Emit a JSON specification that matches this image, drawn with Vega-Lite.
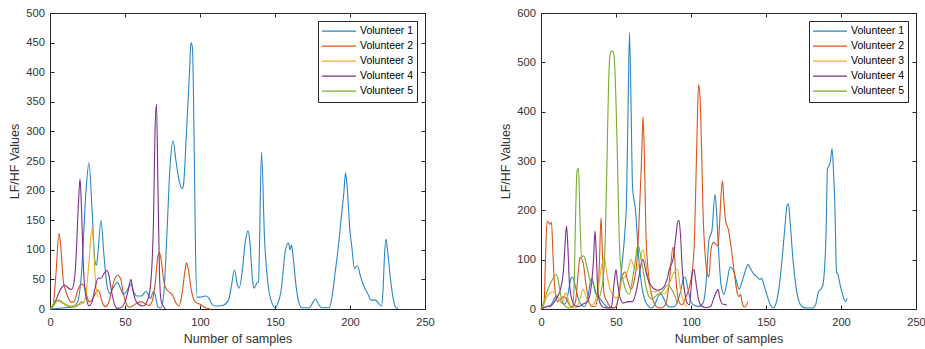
{
"$schema": "https://vega.github.io/schema/vega-lite/v6.json",
"padding": {"left": 8, "top": 6, "right": 0, "bottom": 0},
"spacing": 64,
"config": {
  "view": {"stroke": "#262626", "strokeWidth": 1},
  "font": "Liberation Sans",
  "axis": {"grid": false, "labelFlush": false, "domainColor": "#262626", "tickColor": "#262626", "tickSize": -4, "labelColor": "#333333", "labelFont": "Liberation Sans", "labelFontSize": 11.2, "labelPadding": 9.5, "titleFont": "Liberation Sans", "titleFontSize": 12.5, "titleFontWeight": "normal", "titleColor": "#333333", "titlePadding": 4},
  "axisX": {"labelPadding": 11, "titlePadding": 5, "labelFlush": false},
  "legend": {"orient": "top-right", "offset": 8, "strokeColor": "#262626", "fillColor": "#ffffff", "padding": 3, "symbolType": "stroke", "symbolSize": 1156, "symbolStrokeWidth": 1.2, "clipHeight": 14.4, "rowPadding": 0, "labelFont": "Liberation Sans", "labelFontSize": 10.5, "labelColor": "#000000", "labelOffset": 3, "title": null}
},
"datasets": {
"L": [
{"v":"Volunteer 1","x":0,"y":0},{"v":"Volunteer 1","x":5,"y":1},{"v":"Volunteer 1","x":10,"y":2},{"v":"Volunteer 1","x":15,"y":4},{"v":"Volunteer 1","x":18,"y":10},{"v":"Volunteer 1","x":21,"y":60},{"v":"Volunteer 1","x":24,"y":200},{"v":"Volunteer 1","x":26,"y":247},{"v":"Volunteer 1","x":28,"y":170},{"v":"Volunteer 1","x":30,"y":80},{"v":"Volunteer 1","x":31,"y":74},{"v":"Volunteer 1","x":32,"y":95},{"v":"Volunteer 1","x":34,"y":150},{"v":"Volunteer 1","x":36,"y":90},{"v":"Volunteer 1","x":38,"y":40},{"v":"Volunteer 1","x":40,"y":26},{"v":"Volunteer 1","x":42,"y":35},{"v":"Volunteer 1","x":45,"y":45},{"v":"Volunteer 1","x":47,"y":35},{"v":"Volunteer 1","x":49,"y":25},{"v":"Volunteer 1","x":51,"y":30},{"v":"Volunteer 1","x":54,"y":42},{"v":"Volunteer 1","x":56,"y":28},{"v":"Volunteer 1","x":58,"y":22},{"v":"Volunteer 1","x":61,"y":22},{"v":"Volunteer 1","x":64,"y":30},{"v":"Volunteer 1","x":66,"y":22},{"v":"Volunteer 1","x":67,"y":18},{"v":"Volunteer 1","x":69,"y":30},{"v":"Volunteer 1","x":70,"y":25},{"v":"Volunteer 1","x":72,"y":3},{"v":"Volunteer 1","x":74,"y":2},{"v":"Volunteer 1","x":76,"y":30},{"v":"Volunteer 1","x":78,"y":130},{"v":"Volunteer 1","x":80,"y":240},{"v":"Volunteer 1","x":82,"y":284},{"v":"Volunteer 1","x":84,"y":250},{"v":"Volunteer 1","x":86,"y":218},{"v":"Volunteer 1","x":88,"y":203},{"v":"Volunteer 1","x":89,"y":210},{"v":"Volunteer 1","x":91,"y":300},{"v":"Volunteer 1","x":93,"y":400},{"v":"Volunteer 1","x":94,"y":450},{"v":"Volunteer 1","x":95,"y":440},{"v":"Volunteer 1","x":96,"y":300},{"v":"Volunteer 1","x":97,"y":100},{"v":"Volunteer 1","x":98,"y":20},{"v":"Volunteer 1","x":100,"y":20},{"v":"Volunteer 1","x":102,"y":21},{"v":"Volunteer 1","x":104,"y":22},{"v":"Volunteer 1","x":106,"y":18},{"v":"Volunteer 1","x":108,"y":8},{"v":"Volunteer 1","x":110,"y":5},{"v":"Volunteer 1","x":115,"y":6},{"v":"Volunteer 1","x":119,"y":15},{"v":"Volunteer 1","x":121,"y":40},{"v":"Volunteer 1","x":123,"y":66},{"v":"Volunteer 1","x":125,"y":40},{"v":"Volunteer 1","x":126,"y":35},{"v":"Volunteer 1","x":128,"y":60},{"v":"Volunteer 1","x":130,"y":110},{"v":"Volunteer 1","x":132,"y":132},{"v":"Volunteer 1","x":133,"y":120},{"v":"Volunteer 1","x":135,"y":50},{"v":"Volunteer 1","x":136,"y":35},{"v":"Volunteer 1","x":138,"y":44},{"v":"Volunteer 1","x":139,"y":46},{"v":"Volunteer 1","x":141,"y":265},{"v":"Volunteer 1","x":143,"y":120},{"v":"Volunteer 1","x":146,"y":30},{"v":"Volunteer 1","x":148,"y":10},{"v":"Volunteer 1","x":150,"y":2},{"v":"Volunteer 1","x":152,"y":10},{"v":"Volunteer 1","x":154,"y":30},{"v":"Volunteer 1","x":157,"y":100},{"v":"Volunteer 1","x":159,"y":112},{"v":"Volunteer 1","x":160,"y":100},{"v":"Volunteer 1","x":161,"y":108},{"v":"Volunteer 1","x":162,"y":90},{"v":"Volunteer 1","x":164,"y":40},{"v":"Volunteer 1","x":166,"y":10},{"v":"Volunteer 1","x":168,"y":2},{"v":"Volunteer 1","x":173,"y":2},{"v":"Volunteer 1","x":175,"y":10},{"v":"Volunteer 1","x":177,"y":17},{"v":"Volunteer 1","x":179,"y":8},{"v":"Volunteer 1","x":181,"y":2},{"v":"Volunteer 1","x":186,"y":2},{"v":"Volunteer 1","x":188,"y":20},{"v":"Volunteer 1","x":190,"y":60},{"v":"Volunteer 1","x":192,"y":100},{"v":"Volunteer 1","x":194,"y":150},{"v":"Volunteer 1","x":196,"y":200},{"v":"Volunteer 1","x":197,"y":230},{"v":"Volunteer 1","x":198,"y":210},{"v":"Volunteer 1","x":200,"y":130},{"v":"Volunteer 1","x":201,"y":110},{"v":"Volunteer 1","x":203,"y":68},{"v":"Volunteer 1","x":204,"y":72},{"v":"Volunteer 1","x":205,"y":73},{"v":"Volunteer 1","x":207,"y":55},{"v":"Volunteer 1","x":209,"y":40},{"v":"Volunteer 1","x":212,"y":25},{"v":"Volunteer 1","x":214,"y":15},{"v":"Volunteer 1","x":217,"y":15},{"v":"Volunteer 1","x":219,"y":10},{"v":"Volunteer 1","x":221,"y":5},{"v":"Volunteer 1","x":222,"y":30},{"v":"Volunteer 1","x":223,"y":90},{"v":"Volunteer 1","x":224,"y":118},{"v":"Volunteer 1","x":225,"y":100},{"v":"Volunteer 1","x":227,"y":50},{"v":"Volunteer 1","x":229,"y":15},{"v":"Volunteer 1","x":230,"y":5},{"v":"Volunteer 1","x":232,"y":0},
{"v":"Volunteer 2","x":0,"y":0},{"v":"Volunteer 2","x":2,"y":5},{"v":"Volunteer 2","x":4,"y":60},{"v":"Volunteer 2","x":6,"y":128},{"v":"Volunteer 2","x":7,"y":110},{"v":"Volunteer 2","x":9,"y":45},{"v":"Volunteer 2","x":10,"y":35},{"v":"Volunteer 2","x":12,"y":20},{"v":"Volunteer 2","x":14,"y":12},{"v":"Volunteer 2","x":16,"y":12},{"v":"Volunteer 2","x":18,"y":28},{"v":"Volunteer 2","x":20,"y":40},{"v":"Volunteer 2","x":21,"y":42},{"v":"Volunteer 2","x":23,"y":38},{"v":"Volunteer 2","x":25,"y":18},{"v":"Volunteer 2","x":26,"y":12},{"v":"Volunteer 2","x":28,"y":15},{"v":"Volunteer 2","x":30,"y":25},{"v":"Volunteer 2","x":32,"y":32},{"v":"Volunteer 2","x":33,"y":28},{"v":"Volunteer 2","x":35,"y":10},{"v":"Volunteer 2","x":37,"y":4},{"v":"Volunteer 2","x":39,"y":10},{"v":"Volunteer 2","x":41,"y":30},{"v":"Volunteer 2","x":43,"y":50},{"v":"Volunteer 2","x":45,"y":57},{"v":"Volunteer 2","x":47,"y":52},{"v":"Volunteer 2","x":49,"y":25},{"v":"Volunteer 2","x":51,"y":8},{"v":"Volunteer 2","x":53,"y":3},{"v":"Volunteer 2","x":55,"y":5},{"v":"Volunteer 2","x":58,"y":10},{"v":"Volunteer 2","x":61,"y":12},{"v":"Volunteer 2","x":64,"y":8},{"v":"Volunteer 2","x":66,"y":6},{"v":"Volunteer 2","x":68,"y":12},{"v":"Volunteer 2","x":70,"y":40},{"v":"Volunteer 2","x":72,"y":90},{"v":"Volunteer 2","x":73,"y":95},{"v":"Volunteer 2","x":74,"y":85},{"v":"Volunteer 2","x":76,"y":45},{"v":"Volunteer 2","x":78,"y":32},{"v":"Volunteer 2","x":80,"y":28},{"v":"Volunteer 2","x":82,"y":22},{"v":"Volunteer 2","x":84,"y":10},{"v":"Volunteer 2","x":86,"y":5},{"v":"Volunteer 2","x":88,"y":25},{"v":"Volunteer 2","x":90,"y":65},{"v":"Volunteer 2","x":91,"y":78},{"v":"Volunteer 2","x":92,"y":70},{"v":"Volunteer 2","x":94,"y":35},{"v":"Volunteer 2","x":96,"y":15},{"v":"Volunteer 2","x":98,"y":10},{"v":"Volunteer 2","x":100,"y":8},{"v":"Volunteer 2","x":103,"y":3},{"v":"Volunteer 2","x":107,"y":0},
{"v":"Volunteer 3","x":0,"y":0},{"v":"Volunteer 3","x":2,"y":8},{"v":"Volunteer 3","x":4,"y":14},{"v":"Volunteer 3","x":6,"y":13},{"v":"Volunteer 3","x":8,"y":10},{"v":"Volunteer 3","x":11,"y":7},{"v":"Volunteer 3","x":14,"y":5},{"v":"Volunteer 3","x":17,"y":6},{"v":"Volunteer 3","x":20,"y":8},{"v":"Volunteer 3","x":22,"y":10},{"v":"Volunteer 3","x":24,"y":25},{"v":"Volunteer 3","x":26,"y":80},{"v":"Volunteer 3","x":28,"y":137},{"v":"Volunteer 3","x":29,"y":110},{"v":"Volunteer 3","x":30,"y":60},{"v":"Volunteer 3","x":31,"y":30},{"v":"Volunteer 3","x":32,"y":20},
{"v":"Volunteer 4","x":0,"y":0},{"v":"Volunteer 4","x":2,"y":5},{"v":"Volunteer 4","x":4,"y":15},{"v":"Volunteer 4","x":6,"y":28},{"v":"Volunteer 4","x":8,"y":37},{"v":"Volunteer 4","x":10,"y":40},{"v":"Volunteer 4","x":12,"y":36},{"v":"Volunteer 4","x":14,"y":33},{"v":"Volunteer 4","x":15,"y":35},{"v":"Volunteer 4","x":17,"y":70},{"v":"Volunteer 4","x":19,"y":180},{"v":"Volunteer 4","x":20,"y":220},{"v":"Volunteer 4","x":21,"y":170},{"v":"Volunteer 4","x":22,"y":90},{"v":"Volunteer 4","x":23,"y":40},{"v":"Volunteer 4","x":25,"y":10},{"v":"Volunteer 4","x":26,"y":5},{"v":"Volunteer 4","x":28,"y":12},{"v":"Volunteer 4","x":30,"y":35},{"v":"Volunteer 4","x":32,"y":52},{"v":"Volunteer 4","x":34,"y":52},{"v":"Volunteer 4","x":36,"y":60},{"v":"Volunteer 4","x":38,"y":65},{"v":"Volunteer 4","x":39,"y":60},{"v":"Volunteer 4","x":41,"y":30},{"v":"Volunteer 4","x":43,"y":8},{"v":"Volunteer 4","x":45,"y":1},{"v":"Volunteer 4","x":47,"y":2},{"v":"Volunteer 4","x":50,"y":12},{"v":"Volunteer 4","x":52,"y":30},{"v":"Volunteer 4","x":54,"y":50},{"v":"Volunteer 4","x":55,"y":35},{"v":"Volunteer 4","x":57,"y":15},{"v":"Volunteer 4","x":59,"y":8},{"v":"Volunteer 4","x":62,"y":5},{"v":"Volunteer 4","x":65,"y":15},{"v":"Volunteer 4","x":67,"y":40},{"v":"Volunteer 4","x":69,"y":150},{"v":"Volunteer 4","x":70,"y":300},{"v":"Volunteer 4","x":71,"y":346},{"v":"Volunteer 4","x":72,"y":200},{"v":"Volunteer 4","x":73,"y":60},{"v":"Volunteer 4","x":74,"y":15},{"v":"Volunteer 4","x":76,"y":3},{"v":"Volunteer 4","x":77,"y":0},
{"v":"Volunteer 5","x":0,"y":0},{"v":"Volunteer 5","x":2,"y":5},{"v":"Volunteer 5","x":4,"y":12},{"v":"Volunteer 5","x":6,"y":15},{"v":"Volunteer 5","x":8,"y":12},{"v":"Volunteer 5","x":10,"y":8},{"v":"Volunteer 5","x":12,"y":5},{"v":"Volunteer 5","x":14,"y":3},{"v":"Volunteer 5","x":16,"y":3},{"v":"Volunteer 5","x":18,"y":5},{"v":"Volunteer 5","x":20,"y":10},{"v":"Volunteer 5","x":21,"y":12},{"v":"Volunteer 5","x":22,"y":11},{"v":"Volunteer 5","x":23,"y":10}
],
"R": [
{"v":"Volunteer 1","x":0,"y":0},{"v":"Volunteer 1","x":3,"y":4},{"v":"Volunteer 1","x":7,"y":10},{"v":"Volunteer 1","x":10,"y":25},{"v":"Volunteer 1","x":12,"y":20},{"v":"Volunteer 1","x":14,"y":12},{"v":"Volunteer 1","x":16,"y":10},{"v":"Volunteer 1","x":18,"y":30},{"v":"Volunteer 1","x":20,"y":62},{"v":"Volunteer 1","x":21,"y":65},{"v":"Volunteer 1","x":23,"y":45},{"v":"Volunteer 1","x":25,"y":20},{"v":"Volunteer 1","x":27,"y":8},{"v":"Volunteer 1","x":29,"y":5},{"v":"Volunteer 1","x":31,"y":20},{"v":"Volunteer 1","x":33,"y":55},{"v":"Volunteer 1","x":34,"y":62},{"v":"Volunteer 1","x":36,"y":35},{"v":"Volunteer 1","x":38,"y":25},{"v":"Volunteer 1","x":40,"y":18},{"v":"Volunteer 1","x":42,"y":10},{"v":"Volunteer 1","x":44,"y":4},{"v":"Volunteer 1","x":46,"y":2},{"v":"Volunteer 1","x":48,"y":2},{"v":"Volunteer 1","x":50,"y":5},{"v":"Volunteer 1","x":52,"y":30},{"v":"Volunteer 1","x":54,"y":90},{"v":"Volunteer 1","x":56,"y":160},{"v":"Volunteer 1","x":57,"y":220},{"v":"Volunteer 1","x":58,"y":400},{"v":"Volunteer 1","x":59,"y":560},{"v":"Volunteer 1","x":60,"y":420},{"v":"Volunteer 1","x":61,"y":250},{"v":"Volunteer 1","x":63,"y":200},{"v":"Volunteer 1","x":65,"y":110},{"v":"Volunteer 1","x":67,"y":50},{"v":"Volunteer 1","x":69,"y":20},{"v":"Volunteer 1","x":71,"y":8},{"v":"Volunteer 1","x":74,"y":2},{"v":"Volunteer 1","x":76,"y":10},{"v":"Volunteer 1","x":78,"y":25},{"v":"Volunteer 1","x":80,"y":30},{"v":"Volunteer 1","x":82,"y":20},{"v":"Volunteer 1","x":84,"y":8},{"v":"Volunteer 1","x":86,"y":4},{"v":"Volunteer 1","x":89,"y":5},{"v":"Volunteer 1","x":91,"y":15},{"v":"Volunteer 1","x":93,"y":35},{"v":"Volunteer 1","x":95,"y":62},{"v":"Volunteer 1","x":96,"y":65},{"v":"Volunteer 1","x":98,"y":40},{"v":"Volunteer 1","x":100,"y":15},{"v":"Volunteer 1","x":102,"y":8},{"v":"Volunteer 1","x":105,"y":5},{"v":"Volunteer 1","x":108,"y":12},{"v":"Volunteer 1","x":110,"y":50},{"v":"Volunteer 1","x":112,"y":140},{"v":"Volunteer 1","x":113,"y":150},{"v":"Volunteer 1","x":114,"y":160},{"v":"Volunteer 1","x":116,"y":232},{"v":"Volunteer 1","x":117,"y":200},{"v":"Volunteer 1","x":118,"y":140},{"v":"Volunteer 1","x":120,"y":50},{"v":"Volunteer 1","x":122,"y":30},{"v":"Volunteer 1","x":124,"y":55},{"v":"Volunteer 1","x":126,"y":85},{"v":"Volunteer 1","x":128,"y":80},{"v":"Volunteer 1","x":130,"y":60},{"v":"Volunteer 1","x":132,"y":40},{"v":"Volunteer 1","x":134,"y":55},{"v":"Volunteer 1","x":136,"y":75},{"v":"Volunteer 1","x":138,"y":90},{"v":"Volunteer 1","x":140,"y":80},{"v":"Volunteer 1","x":142,"y":70},{"v":"Volunteer 1","x":144,"y":65},{"v":"Volunteer 1","x":146,"y":60},{"v":"Volunteer 1","x":147,"y":62},{"v":"Volunteer 1","x":149,"y":45},{"v":"Volunteer 1","x":151,"y":25},{"v":"Volunteer 1","x":153,"y":8},{"v":"Volunteer 1","x":155,"y":2},{"v":"Volunteer 1","x":157,"y":15},{"v":"Volunteer 1","x":159,"y":50},{"v":"Volunteer 1","x":161,"y":110},{"v":"Volunteer 1","x":163,"y":180},{"v":"Volunteer 1","x":164,"y":210},{"v":"Volunteer 1","x":165,"y":213},{"v":"Volunteer 1","x":166,"y":180},{"v":"Volunteer 1","x":168,"y":100},{"v":"Volunteer 1","x":170,"y":45},{"v":"Volunteer 1","x":172,"y":15},{"v":"Volunteer 1","x":174,"y":5},{"v":"Volunteer 1","x":177,"y":2},{"v":"Volunteer 1","x":181,"y":2},{"v":"Volunteer 1","x":183,"y":8},{"v":"Volunteer 1","x":185,"y":35},{"v":"Volunteer 1","x":187,"y":42},{"v":"Volunteer 1","x":188,"y":50},{"v":"Volunteer 1","x":190,"y":150},{"v":"Volunteer 1","x":191,"y":285},{"v":"Volunteer 1","x":192,"y":290},{"v":"Volunteer 1","x":193,"y":300},{"v":"Volunteer 1","x":194,"y":325},{"v":"Volunteer 1","x":195,"y":280},{"v":"Volunteer 1","x":196,"y":200},{"v":"Volunteer 1","x":197,"y":75},{"v":"Volunteer 1","x":198,"y":70},{"v":"Volunteer 1","x":199,"y":55},{"v":"Volunteer 1","x":201,"y":30},{"v":"Volunteer 1","x":203,"y":15},{"v":"Volunteer 1","x":204,"y":22},
{"v":"Volunteer 2","x":0,"y":0},{"v":"Volunteer 2","x":2,"y":10},{"v":"Volunteer 2","x":3,"y":100},{"v":"Volunteer 2","x":4,"y":178},{"v":"Volunteer 2","x":6,"y":172},{"v":"Volunteer 2","x":7,"y":175},{"v":"Volunteer 2","x":8,"y":110},{"v":"Volunteer 2","x":9,"y":50},{"v":"Volunteer 2","x":11,"y":15},{"v":"Volunteer 2","x":13,"y":20},{"v":"Volunteer 2","x":15,"y":25},{"v":"Volunteer 2","x":17,"y":20},{"v":"Volunteer 2","x":19,"y":8},{"v":"Volunteer 2","x":21,"y":4},{"v":"Volunteer 2","x":23,"y":15},{"v":"Volunteer 2","x":25,"y":80},{"v":"Volunteer 2","x":26,"y":105},{"v":"Volunteer 2","x":28,"y":95},{"v":"Volunteer 2","x":30,"y":50},{"v":"Volunteer 2","x":32,"y":15},{"v":"Volunteer 2","x":34,"y":5},{"v":"Volunteer 2","x":36,"y":5},{"v":"Volunteer 2","x":38,"y":30},{"v":"Volunteer 2","x":39,"y":100},{"v":"Volunteer 2","x":40,"y":185},{"v":"Volunteer 2","x":41,"y":110},{"v":"Volunteer 2","x":42,"y":30},{"v":"Volunteer 2","x":44,"y":15},{"v":"Volunteer 2","x":46,"y":5},{"v":"Volunteer 2","x":48,"y":2},{"v":"Volunteer 2","x":50,"y":5},{"v":"Volunteer 2","x":52,"y":30},{"v":"Volunteer 2","x":54,"y":65},{"v":"Volunteer 2","x":56,"y":75},{"v":"Volunteer 2","x":58,"y":55},{"v":"Volunteer 2","x":60,"y":40},{"v":"Volunteer 2","x":62,"y":55},{"v":"Volunteer 2","x":64,"y":100},{"v":"Volunteer 2","x":65,"y":150},{"v":"Volunteer 2","x":67,"y":300},{"v":"Volunteer 2","x":68,"y":390},{"v":"Volunteer 2","x":69,"y":300},{"v":"Volunteer 2","x":70,"y":150},{"v":"Volunteer 2","x":72,"y":60},{"v":"Volunteer 2","x":74,"y":25},{"v":"Volunteer 2","x":76,"y":8},{"v":"Volunteer 2","x":78,"y":3},{"v":"Volunteer 2","x":80,"y":2},{"v":"Volunteer 2","x":82,"y":5},{"v":"Volunteer 2","x":84,"y":20},{"v":"Volunteer 2","x":86,"y":70},{"v":"Volunteer 2","x":88,"y":125},{"v":"Volunteer 2","x":89,"y":110},{"v":"Volunteer 2","x":90,"y":60},{"v":"Volunteer 2","x":92,"y":15},{"v":"Volunteer 2","x":94,"y":8},{"v":"Volunteer 2","x":96,"y":20},{"v":"Volunteer 2","x":98,"y":35},{"v":"Volunteer 2","x":100,"y":60},{"v":"Volunteer 2","x":102,"y":120},{"v":"Volunteer 2","x":104,"y":350},{"v":"Volunteer 2","x":105,"y":455},{"v":"Volunteer 2","x":106,"y":430},{"v":"Volunteer 2","x":107,"y":330},{"v":"Volunteer 2","x":108,"y":200},{"v":"Volunteer 2","x":110,"y":90},{"v":"Volunteer 2","x":111,"y":70},{"v":"Volunteer 2","x":112,"y":65},{"v":"Volunteer 2","x":113,"y":110},{"v":"Volunteer 2","x":114,"y":130},{"v":"Volunteer 2","x":115,"y":135},{"v":"Volunteer 2","x":117,"y":130},{"v":"Volunteer 2","x":118,"y":128},{"v":"Volunteer 2","x":119,"y":170},{"v":"Volunteer 2","x":120,"y":230},{"v":"Volunteer 2","x":121,"y":260},{"v":"Volunteer 2","x":122,"y":215},{"v":"Volunteer 2","x":123,"y":180},{"v":"Volunteer 2","x":125,"y":160},{"v":"Volunteer 2","x":127,"y":120},{"v":"Volunteer 2","x":129,"y":70},{"v":"Volunteer 2","x":131,"y":30},{"v":"Volunteer 2","x":132,"y":25},{"v":"Volunteer 2","x":133,"y":30},{"v":"Volunteer 2","x":134,"y":15},{"v":"Volunteer 2","x":135,"y":5},{"v":"Volunteer 2","x":136,"y":4},{"v":"Volunteer 2","x":138,"y":15},
{"v":"Volunteer 3","x":0,"y":0},{"v":"Volunteer 3","x":2,"y":10},{"v":"Volunteer 3","x":4,"y":25},{"v":"Volunteer 3","x":6,"y":32},{"v":"Volunteer 3","x":8,"y":35},{"v":"Volunteer 3","x":10,"y":30},{"v":"Volunteer 3","x":12,"y":20},{"v":"Volunteer 3","x":14,"y":12},{"v":"Volunteer 3","x":16,"y":30},{"v":"Volunteer 3","x":17,"y":32},{"v":"Volunteer 3","x":18,"y":20},{"v":"Volunteer 3","x":20,"y":5},{"v":"Volunteer 3","x":22,"y":2},{"v":"Volunteer 3","x":24,"y":5},{"v":"Volunteer 3","x":26,"y":20},{"v":"Volunteer 3","x":28,"y":40},{"v":"Volunteer 3","x":30,"y":25},{"v":"Volunteer 3","x":32,"y":12},{"v":"Volunteer 3","x":34,"y":8},{"v":"Volunteer 3","x":36,"y":15},{"v":"Volunteer 3","x":38,"y":40},{"v":"Volunteer 3","x":40,"y":80},{"v":"Volunteer 3","x":42,"y":105},{"v":"Volunteer 3","x":44,"y":70},{"v":"Volunteer 3","x":46,"y":40},{"v":"Volunteer 3","x":48,"y":28},{"v":"Volunteer 3","x":50,"y":22},{"v":"Volunteer 3","x":52,"y":30},{"v":"Volunteer 3","x":54,"y":60},{"v":"Volunteer 3","x":56,"y":65},{"v":"Volunteer 3","x":58,"y":80},{"v":"Volunteer 3","x":60,"y":100},{"v":"Volunteer 3","x":62,"y":85},{"v":"Volunteer 3","x":64,"y":80},{"v":"Volunteer 3","x":66,"y":100},{"v":"Volunteer 3","x":68,"y":120},{"v":"Volunteer 3","x":70,"y":90},{"v":"Volunteer 3","x":72,"y":50},{"v":"Volunteer 3","x":74,"y":35},{"v":"Volunteer 3","x":76,"y":35},{"v":"Volunteer 3","x":78,"y":38},{"v":"Volunteer 3","x":80,"y":32},{"v":"Volunteer 3","x":82,"y":30},{"v":"Volunteer 3","x":84,"y":38},{"v":"Volunteer 3","x":86,"y":55},{"v":"Volunteer 3","x":88,"y":70},{"v":"Volunteer 3","x":90,"y":78},{"v":"Volunteer 3","x":91,"y":80},{"v":"Volunteer 3","x":93,"y":40},{"v":"Volunteer 3","x":95,"y":15},{"v":"Volunteer 3","x":97,"y":5},
{"v":"Volunteer 4","x":0,"y":0},{"v":"Volunteer 4","x":3,"y":4},{"v":"Volunteer 4","x":6,"y":5},{"v":"Volunteer 4","x":9,"y":15},{"v":"Volunteer 4","x":11,"y":25},{"v":"Volunteer 4","x":13,"y":40},{"v":"Volunteer 4","x":15,"y":80},{"v":"Volunteer 4","x":16,"y":130},{"v":"Volunteer 4","x":17,"y":168},{"v":"Volunteer 4","x":18,"y":120},{"v":"Volunteer 4","x":19,"y":50},{"v":"Volunteer 4","x":21,"y":15},{"v":"Volunteer 4","x":23,"y":6},{"v":"Volunteer 4","x":25,"y":5},{"v":"Volunteer 4","x":28,"y":10},{"v":"Volunteer 4","x":31,"y":15},{"v":"Volunteer 4","x":33,"y":35},{"v":"Volunteer 4","x":35,"y":100},{"v":"Volunteer 4","x":36,"y":158},{"v":"Volunteer 4","x":37,"y":100},{"v":"Volunteer 4","x":38,"y":30},{"v":"Volunteer 4","x":40,"y":8},{"v":"Volunteer 4","x":42,"y":3},{"v":"Volunteer 4","x":45,"y":2},{"v":"Volunteer 4","x":47,"y":5},{"v":"Volunteer 4","x":49,"y":60},{"v":"Volunteer 4","x":50,"y":80},{"v":"Volunteer 4","x":51,"y":55},{"v":"Volunteer 4","x":53,"y":20},{"v":"Volunteer 4","x":55,"y":12},{"v":"Volunteer 4","x":58,"y":15},{"v":"Volunteer 4","x":61,"y":15},{"v":"Volunteer 4","x":63,"y":30},{"v":"Volunteer 4","x":65,"y":60},{"v":"Volunteer 4","x":67,"y":95},{"v":"Volunteer 4","x":68,"y":100},{"v":"Volunteer 4","x":70,"y":75},{"v":"Volunteer 4","x":72,"y":55},{"v":"Volunteer 4","x":74,"y":45},{"v":"Volunteer 4","x":76,"y":40},{"v":"Volunteer 4","x":78,"y":38},{"v":"Volunteer 4","x":80,"y":40},{"v":"Volunteer 4","x":82,"y":45},{"v":"Volunteer 4","x":84,"y":60},{"v":"Volunteer 4","x":86,"y":85},{"v":"Volunteer 4","x":88,"y":100},{"v":"Volunteer 4","x":90,"y":150},{"v":"Volunteer 4","x":91,"y":175},{"v":"Volunteer 4","x":92,"y":180},{"v":"Volunteer 4","x":93,"y":150},{"v":"Volunteer 4","x":94,"y":90},{"v":"Volunteer 4","x":96,"y":30},{"v":"Volunteer 4","x":97,"y":15},{"v":"Volunteer 4","x":99,"y":8},{"v":"Volunteer 4","x":100,"y":40},{"v":"Volunteer 4","x":101,"y":75},{"v":"Volunteer 4","x":102,"y":80},{"v":"Volunteer 4","x":103,"y":60},{"v":"Volunteer 4","x":105,"y":20},{"v":"Volunteer 4","x":107,"y":6},{"v":"Volunteer 4","x":110,"y":3},{"v":"Volunteer 4","x":113,"y":5},{"v":"Volunteer 4","x":115,"y":20},{"v":"Volunteer 4","x":117,"y":35},{"v":"Volunteer 4","x":118,"y":40},{"v":"Volunteer 4","x":119,"y":25},{"v":"Volunteer 4","x":121,"y":10},{"v":"Volunteer 4","x":124,"y":8},
{"v":"Volunteer 5","x":0,"y":0},{"v":"Volunteer 5","x":2,"y":15},{"v":"Volunteer 5","x":4,"y":35},{"v":"Volunteer 5","x":6,"y":50},{"v":"Volunteer 5","x":8,"y":62},{"v":"Volunteer 5","x":10,"y":70},{"v":"Volunteer 5","x":11,"y":65},{"v":"Volunteer 5","x":13,"y":30},{"v":"Volunteer 5","x":15,"y":10},{"v":"Volunteer 5","x":17,"y":4},{"v":"Volunteer 5","x":19,"y":2},{"v":"Volunteer 5","x":21,"y":5},{"v":"Volunteer 5","x":22,"y":40},{"v":"Volunteer 5","x":23,"y":180},{"v":"Volunteer 5","x":24,"y":280},{"v":"Volunteer 5","x":25,"y":285},{"v":"Volunteer 5","x":26,"y":180},{"v":"Volunteer 5","x":27,"y":105},{"v":"Volunteer 5","x":28,"y":108},{"v":"Volunteer 5","x":29,"y":105},{"v":"Volunteer 5","x":31,"y":80},{"v":"Volunteer 5","x":33,"y":55},{"v":"Volunteer 5","x":35,"y":50},{"v":"Volunteer 5","x":37,"y":30},{"v":"Volunteer 5","x":38,"y":20},{"v":"Volunteer 5","x":40,"y":35},{"v":"Volunteer 5","x":42,"y":80},{"v":"Volunteer 5","x":43,"y":160},{"v":"Volunteer 5","x":44,"y":300},{"v":"Volunteer 5","x":45,"y":450},{"v":"Volunteer 5","x":46,"y":515},{"v":"Volunteer 5","x":47,"y":523},{"v":"Volunteer 5","x":48,"y":522},{"v":"Volunteer 5","x":49,"y":500},{"v":"Volunteer 5","x":50,"y":420},{"v":"Volunteer 5","x":51,"y":300},{"v":"Volunteer 5","x":52,"y":160},{"v":"Volunteer 5","x":53,"y":90},{"v":"Volunteer 5","x":55,"y":55},{"v":"Volunteer 5","x":57,"y":35},{"v":"Volunteer 5","x":59,"y":30},{"v":"Volunteer 5","x":61,"y":60},{"v":"Volunteer 5","x":63,"y":100},{"v":"Volunteer 5","x":64,"y":125},{"v":"Volunteer 5","x":65,"y":128},{"v":"Volunteer 5","x":66,"y":115},{"v":"Volunteer 5","x":68,"y":80},{"v":"Volunteer 5","x":70,"y":45},{"v":"Volunteer 5","x":72,"y":25},{"v":"Volunteer 5","x":74,"y":20},{"v":"Volunteer 5","x":76,"y":25},{"v":"Volunteer 5","x":78,"y":30},{"v":"Volunteer 5","x":80,"y":32},{"v":"Volunteer 5","x":82,"y":40},{"v":"Volunteer 5","x":84,"y":48},{"v":"Volunteer 5","x":86,"y":45},{"v":"Volunteer 5","x":88,"y":35},{"v":"Volunteer 5","x":90,"y":20},{"v":"Volunteer 5","x":91,"y":10}
]
},
"hconcat": [
{
 "width": 375, "height": 296,
 "data": {"name": "L"},
 "layer": [
  {"mark": {"type": "line", "interpolate": "monotone", "strokeWidth": 1.1},
   "encoding": {
    "x": {"field": "x", "type": "quantitative", "scale": {"domain": [0, 250], "nice": false}, "axis": {"orient": "bottom", "values": [0, 50, 100, 150, 200, 250], "title": "Number of samples"}},
    "y": {"field": "y", "type": "quantitative", "scale": {"domain": [0, 500], "nice": false}, "axis": {"orient": "left", "values": [0, 50, 100, 150, 200, 250, 300, 350, 400, 450, 500], "title": "LF/HF Values"}},
    "color": {"field": "v", "type": "nominal", "scale": {"domain": ["Volunteer 1", "Volunteer 2", "Volunteer 3", "Volunteer 4", "Volunteer 5"], "range": ["#2a87c6", "#D95319", "#EDB120", "#7E2F8E", "#77AC30"]}}
   }},
  {"mark": {"type": "point", "opacity": 0},
   "encoding": {
    "x": {"field": "x", "type": "quantitative", "axis": {"orient": "top", "values": [0, 50, 100, 150, 200, 250], "labels": false, "title": null}},
    "y": {"field": "y", "type": "quantitative", "axis": {"orient": "right", "values": [0, 50, 100, 150, 200, 250, 300, 350, 400, 450, 500], "labels": false, "title": null}}
   }}
 ],
 "resolve": {"axis": {"x": "independent", "y": "independent"}}
},
{
 "width": 375, "height": 296,
 "data": {"name": "R"},
 "layer": [
  {"mark": {"type": "line", "interpolate": "monotone", "strokeWidth": 1.1},
   "encoding": {
    "x": {"field": "x", "type": "quantitative", "scale": {"domain": [0, 250], "nice": false}, "axis": {"orient": "bottom", "values": [0, 50, 100, 150, 200, 250], "title": "Number of samples"}},
    "y": {"field": "y", "type": "quantitative", "scale": {"domain": [0, 600], "nice": false}, "axis": {"orient": "left", "values": [0, 100, 200, 300, 400, 500, 600], "title": "LF/HF Values"}},
    "color": {"field": "v", "type": "nominal", "scale": {"domain": ["Volunteer 1", "Volunteer 2", "Volunteer 3", "Volunteer 4", "Volunteer 5"], "range": ["#2a87c6", "#D95319", "#EDB120", "#7E2F8E", "#77AC30"]}}
   }},
  {"mark": {"type": "point", "opacity": 0},
   "encoding": {
    "x": {"field": "x", "type": "quantitative", "axis": {"orient": "top", "values": [0, 50, 100, 150, 200, 250], "labels": false, "title": null}},
    "y": {"field": "y", "type": "quantitative", "axis": {"orient": "right", "values": [0, 100, 200, 300, 400, 500, 600], "labels": false, "title": null}}
   }}
 ],
 "resolve": {"axis": {"x": "independent", "y": "independent"}}
}
],
"resolve": {"legend": {"color": "independent"}, "scale": {"color": "independent"}}
}
